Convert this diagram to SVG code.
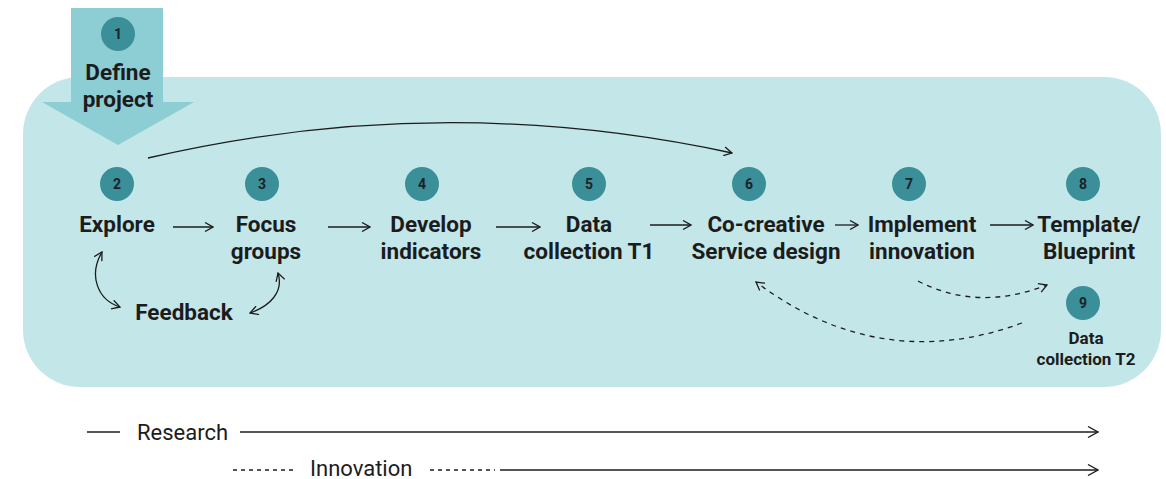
<svg xmlns="http://www.w3.org/2000/svg" width="1166" height="479" viewBox="0 0 1166 479">
<defs>
<marker id="ah" viewBox="0 0 10 10" refX="9" refY="5" markerWidth="10" markerHeight="10" markerUnits="userSpaceOnUse" orient="auto-start-reverse">
<path d="M1,0.5 L9,5 L1,9.5" fill="none" stroke="#1c1c1c" stroke-width="1.3"/>
</marker>
<marker id="ahb" viewBox="0 0 12 12" refX="11" refY="6" markerWidth="12" markerHeight="12" markerUnits="userSpaceOnUse" orient="auto-start-reverse">
<path d="M1,0.5 L11,6 L1,11.5" fill="none" stroke="#1c1c1c" stroke-width="1.3"/>
</marker>
</defs>
<style>
.num{font-family:Roboto,"Liberation Sans",sans-serif;font-weight:700;font-size:14px;fill:#1b2326;text-anchor:middle}
.lbl{font-family:Roboto,"Liberation Sans",sans-serif;font-weight:700;font-size:22.5px;fill:#1c1c1c;text-anchor:middle}
.sm{font-family:Roboto,"Liberation Sans",sans-serif;font-weight:700;font-size:17px;fill:#1c1c1c;text-anchor:middle}
.leg{font-family:Roboto,"Liberation Sans",sans-serif;font-weight:400;font-size:22px;fill:#1c1c1c}
.dot{fill:#3a8f98}
.ln{fill:none;stroke:#1c1c1c;stroke-width:1.3}
.dash{stroke-dasharray:5 5}
</style>
<rect x="23" y="77" width="1138" height="310" rx="57" fill="#c3e6e9"/>

<g id="n1">
<path d="M71,8 H163 V102 H194 L118,145 L42,102 H71 Z" fill="#8dcdd4"/>
<circle class="dot" cx="118" cy="34" r="17"/>
<text class="num" x="118" y="39">1</text>
<text class="lbl" x="118" y="80">Define</text>
<text class="lbl" x="118" y="107">project</text>
</g>
<g id="n2">
<circle class="dot" cx="117" cy="184" r="17"/>
<text class="num" x="117" y="189">2</text>
<text class="lbl" x="117" y="232">Explore</text>
</g>
<g id="n3">
<circle class="dot" cx="262" cy="184" r="17"/>
<text class="num" x="262" y="189">3</text>
<text class="lbl" x="266" y="232">Focus</text>
<text class="lbl" x="266" y="259">groups</text>
</g>
<g id="n4">
<circle class="dot" cx="422" cy="184" r="17"/>
<text class="num" x="422" y="189">4</text>
<text class="lbl" x="431" y="232">Develop</text>
<text class="lbl" x="431" y="259">indicators</text>
</g>
<g id="n5">
<circle class="dot" cx="589" cy="184" r="17"/>
<text class="num" x="589" y="189">5</text>
<text class="lbl" x="589" y="232">Data</text>
<text class="lbl" x="589" y="259">collection T1</text>
</g>
<g id="n6">
<circle class="dot" cx="749" cy="184" r="17"/>
<text class="num" x="749" y="189">6</text>
<text class="lbl" x="766" y="232">Co-creative</text>
<text class="lbl" x="766" y="259">Service design</text>
</g>
<g id="n7">
<circle class="dot" cx="909" cy="184" r="17"/>
<text class="num" x="909" y="189">7</text>
<text class="lbl" x="922" y="232">Implement</text>
<text class="lbl" x="922" y="259">innovation</text>
</g>
<g id="n8">
<circle class="dot" cx="1083" cy="184" r="17"/>
<text class="num" x="1083" y="189">8</text>
<text class="lbl" x="1089" y="232">Template/</text>
<text class="lbl" x="1089" y="259">Blueprint</text>
</g>
<g id="n9">
<circle class="dot" cx="1083" cy="303" r="17"/>
<text class="num" x="1083" y="308">9</text>
<text class="sm" x="1086" y="344">Data</text>
<text class="sm" x="1086" y="365">collection T2</text>
</g>
<g id="feedback">
<text class="lbl" x="184" y="320">Feedback</text>
</g>

<g id="connectors">
<path class="ln" d="M173,227 H213" marker-end="url(#ah)"/>
<path class="ln" d="M328,227 H370" marker-end="url(#ah)"/>
<path class="ln" d="M496,227 H540" marker-end="url(#ah)"/>
<path class="ln" d="M650,225 H691" marker-end="url(#ah)"/>
<path class="ln" d="M835,225 H858" marker-end="url(#ah)"/>
<path class="ln" d="M990,225 H1033" marker-end="url(#ah)"/>
<path class="ln" d="M148,158 Q440,90 732,153" marker-end="url(#ah)"/>
<path class="ln" d="M102,252 C88,276 98,300 120,307" marker-start="url(#ah)" marker-end="url(#ah)"/>
<path class="ln" d="M250,313 C270,306 284,292 278,273" marker-start="url(#ah)" marker-end="url(#ah)"/>
<path class="ln dash" d="M918,281 Q978,312 1047,285" marker-end="url(#ah)"/>
<path class="ln dash" d="M1022,323 Q880,375 756,282" marker-end="url(#ah)"/>
</g>

<g id="legend">
<path class="ln" d="M87,432 H120"/>
<text class="leg" x="137" y="440">Research</text>
<path class="ln" d="M240,432 H1098" marker-end="url(#ahb)"/>
<path class="ln dash" d="M233,470 H297" style="stroke-dasharray:4 4"/>
<text class="leg" x="310" y="476">Innovation</text>
<path class="ln dash" d="M430,470 H495" style="stroke-dasharray:4 4"/>
<path class="ln" d="M500,470 H1098" marker-end="url(#ahb)"/>
</g>
</svg>
